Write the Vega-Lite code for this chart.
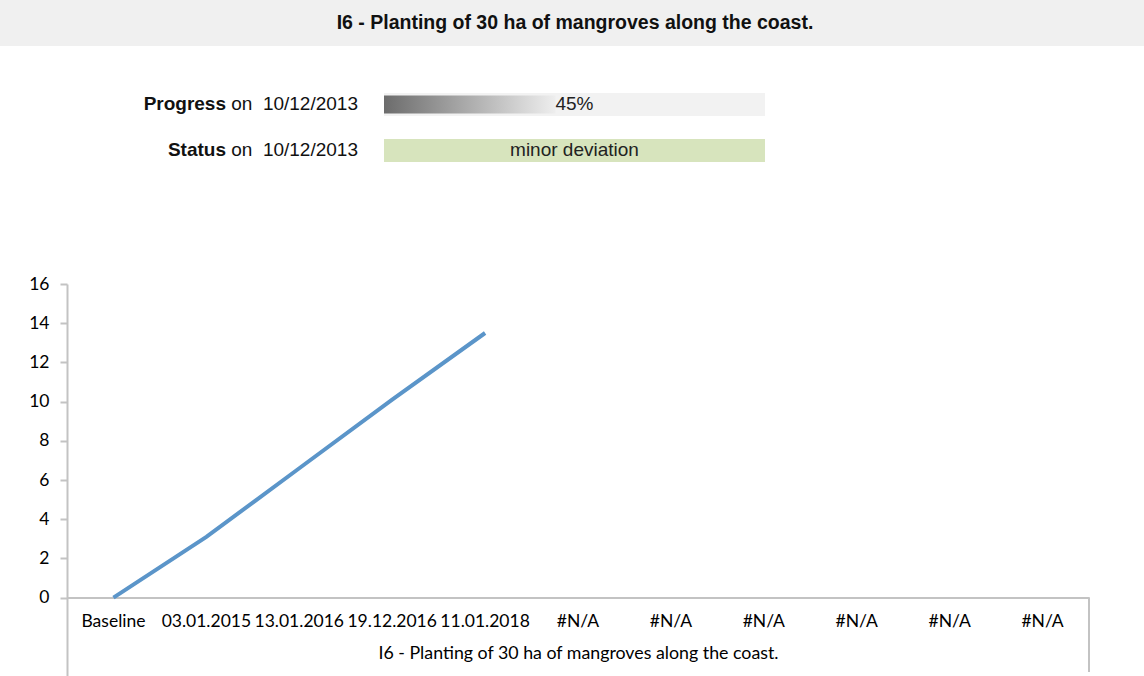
{
  "$schema": "https://vega.github.io/schema/vega-lite/v6.json",
  "background": "white",
  "padding": 0,
  "autosize": {"type": "pad"},
  "spacing": 0,
  "bounds": "full",
  "config": {"view": {"stroke": null}},
  "datasets": {
    "header": [{"title": "I6 - Planting of 30 ha of mangroves along the coast."}],
    "status": [
      {"row": "Progress", "onDate": "on\u00a0\u00a010/12/2013", "done": 45, "total": 100, "label": "45%"},
      {"row": "Status", "onDate": "on\u00a0\u00a010/12/2013", "done": null, "total": 100, "label": "minor deviation"}
    ],
    "series": [
      {"slot": 0, "label": "Baseline", "value": 0},
      {"slot": 1, "label": "03.01.2015", "value": 3.1},
      {"slot": 2, "label": "13.01.2016", "value": 6.6},
      {"slot": 3, "label": "19.12.2016", "value": 10.1},
      {"slot": 4, "label": "11.01.2018", "value": 13.5},
      {"slot": 5, "label": "#N/A", "value": null},
      {"slot": 6, "label": "#N/A", "value": null},
      {"slot": 7, "label": "#N/A", "value": null},
      {"slot": 8, "label": "#N/A", "value": null},
      {"slot": 9, "label": "#N/A", "value": null},
      {"slot": 10, "label": "#N/A", "value": null}
    ]
  },
  "resolve": {"scale": {"x": "independent", "y": "independent", "color": "independent"}},
  "vconcat": [
    {
      "width": 1144,
      "height": 46,
      "data": {"name": "header"},
      "layer": [
        {
          "mark": {"type": "rect", "color": "#f0f0f0"},
          "encoding": {
            "x": {"datum": 0, "type": "quantitative", "scale": {"domain": [0, 1]}, "axis": null},
            "x2": {"datum": 1},
            "y": {"datum": 0, "type": "quantitative", "scale": {"domain": [0, 1]}, "axis": null},
            "y2": {"datum": 1}
          }
        },
        {
          "mark": {"type": "text", "font": "Liberation Sans", "fontSize": 19.5, "fontWeight": "bold", "color": "#111111", "baseline": "middle", "dx": 3},
          "encoding": {"text": {"field": "title"}}
        }
      ]
    },
    {
      "width": 1144,
      "height": 229,
      "data": {"name": "status"},
      "encoding": {
        "y": {"field": "row", "type": "nominal", "axis": null, "scale": {"domain": ["Progress", "Status", "spacer1", "spacer2"], "paddingInner": 0.5, "paddingOuter": 0.739, "align": 0.691}}
      },
      "layer": [
        {
          "mark": {"type": "bar"},
          "encoding": {
            "x": {"field": "total", "type": "quantitative", "stack": null, "scale": {"domain": [-100.79, 199.48], "nice": false, "zero": false}, "axis": null},
            "color": {"field": "row", "type": "nominal", "scale": {"domain": ["Progress", "Status"], "range": ["#f2f2f2", "#d7e4bd"]}, "legend": null}
          }
        },
        {
          "transform": [{"filter": "isValid(datum.done)"}],
          "mark": {"type": "bar", "size": 18, "color": {"gradient": "linear", "x1": 0, "x2": 1, "y1": 0, "y2": 0, "stops": [{"offset": 0, "color": "#6c6c6c"}, {"offset": 1, "color": "#eeeeee"}]}},
          "encoding": {
            "x": {"field": "done", "type": "quantitative", "stack": null}
          }
        },
        {
          "mark": {"type": "text", "font": "Liberation Sans", "fontSize": 19, "color": "#222222", "baseline": "middle"},
          "encoding": {"x": {"datum": 50, "type": "quantitative"}, "text": {"field": "label"}}
        },
        {
          "mark": {"type": "text", "font": "Liberation Sans", "fontSize": 19, "fontWeight": "bold", "color": "#111111", "align": "right", "dx": -158, "baseline": "middle"},
          "encoding": {"x": {"datum": 0, "type": "quantitative"}, "text": {"field": "row"}}
        },
        {
          "mark": {"type": "text", "font": "Liberation Sans", "fontSize": 19, "color": "#111111", "align": "right", "dx": -26, "baseline": "middle"},
          "encoding": {"x": {"datum": 0, "type": "quantitative"}, "text": {"field": "onDate"}}
        }
      ]
    },
    {
      "width": 1089,
      "height": 392,
      "data": {"name": "series"},
      "layer": [
        {
          "mark": {"type": "line", "color": "#5b95c9", "strokeWidth": 4},
          "encoding": {
            "x": {
              "field": "slot", "type": "ordinal", "bandPosition": 0.5,
              "scale": {"type": "band", "domain": [0, 1, 2, 3, 4, 5, 6, 7, 8, 9, 10], "range": [67, 1089], "paddingInner": 0, "paddingOuter": 0},
              "axis": {
                "title": "I6 - Planting of 30 ha of mangroves along the coast.",
                "offset": -78.4, "ticks": false, "domainColor": "#c3c3c3", "domainWidth": 2,
                "labelFont": "Lato", "labelFontSize": 17.5, "labelColor": "#000000", "labelPadding": 15, "labelAngle": 0, "labelOverlap": false,
                "labelExpr": "['Baseline','03.01.2015','13.01.2016','19.12.2016','11.01.2018','#N/A','#N/A','#N/A','#N/A','#N/A','#N/A'][datum.value]",
                "titleFont": "Lato", "titleFontSize": 17.8, "titleFontWeight": "normal", "titleColor": "#000000", "titlePadding": 14
              }
            },
            "y": {
              "field": "value", "type": "quantitative",
              "scale": {"domain": [-4, 16], "nice": false, "zero": false},
              "axis": {
                "title": null, "values": [0, 2, 4, 6, 8, 10, 12, 14, 16], "grid": false, "offset": -67,
                "domainColor": "#c3c3c3", "domainWidth": 2, "tickColor": "#c3c3c3", "tickWidth": 2, "tickSize": 7,
                "labelFont": "Lato", "labelFontSize": 17.5, "labelColor": "#000000", "labelPadding": 11
              }
            }
          }
        },
        {
          "transform": [{"filter": "datum.slot == 10"}],
          "mark": {"type": "rule", "color": "#c3c3c3", "strokeWidth": 2},
          "encoding": {
            "x": {"field": "slot", "type": "ordinal", "bandPosition": 1},
            "y": {"datum": 0, "type": "quantitative"},
            "y2": {"datum": -3.8}
          }
        }
      ]
    }
  ]
}
